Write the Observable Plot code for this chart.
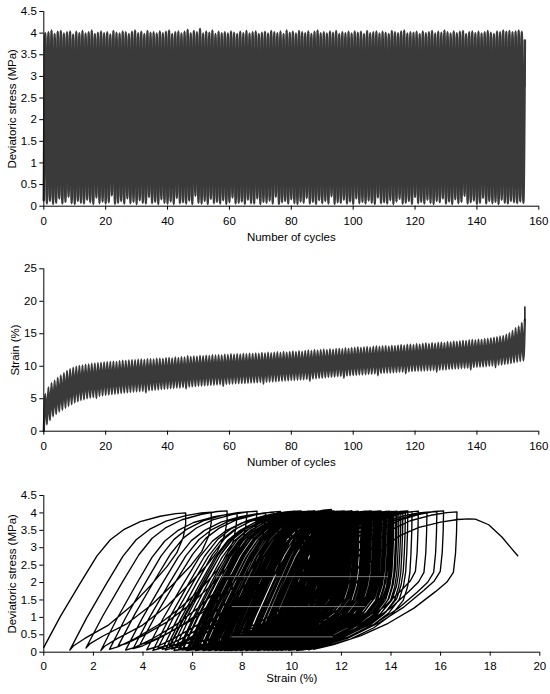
<!DOCTYPE html>
<html><head><meta charset="utf-8">
<script src="https://cdn.jsdelivr.net/npm/d3@7"></script>
<script src="https://cdn.jsdelivr.net/npm/@observablehq/plot@0.6"></script>
<style>html,body{margin:0;padding:0;background:#fff;} #c svg{display:block;}</style>
</head><body><div id="c"></div><script>
// ---- Data (per loading cycle k = 0..155) ----
const stressPeak = [
4.00,4.02,4.06,3.98,4.03,4.05,3.99,4.02,4.04,3.97,
4.03,4.00,4.05,3.99,4.02,4.06,3.98,4.01,4.04,4.00,
4.02,3.97,4.05,4.01,3.99,4.04,4.02,3.98,4.03,4.06,
4.00,4.03,3.98,4.05,4.01,4.02,3.99,4.04,4.00,4.03,
4.06,3.98,4.02,4.04,3.99,4.03,4.08,4.00,4.05,4.02,
4.10,3.99,4.04,4.01,4.06,3.98,4.03,4.00,4.02,3.99,
4.04,4.01,3.98,4.03,4.00,4.05,3.99,4.02,4.04,3.98,
4.01,4.03,3.99,4.05,4.02,4.00,4.04,3.98,4.06,4.01,
4.03,3.99,4.05,4.02,4.00,4.04,3.98,4.03,4.06,4.00,
4.02,3.99,4.04,4.01,4.05,3.98,4.02,4.00,4.03,3.99,
4.04,4.01,4.03,3.98,4.05,4.00,4.02,4.04,3.99,4.03,
4.01,3.98,4.05,4.02,4.00,4.04,4.06,3.99,4.02,4.01,
4.03,3.98,4.04,4.00,4.02,4.05,3.99,4.03,4.01,4.06,
4.02,3.99,4.04,4.00,4.03,4.05,3.98,4.02,4.04,4.00,
4.03,3.99,4.02,4.05,4.01,3.98,4.04,4.02,4.06,4.03,
4.05,4.02,4.04,4.06,4.03,3.83];
const stressMin = [
0.14,0.06,0.12,0.05,0.08,0.18,0.06,0.10,0.22,0.07,
0.05,0.12,0.08,0.06,0.15,0.09,0.05,0.20,0.07,0.11,
0.06,0.09,0.25,0.05,0.08,0.12,0.06,0.18,0.07,0.10,
0.05,0.14,0.08,0.06,0.21,0.07,0.10,0.05,0.16,0.08,
0.06,0.11,0.05,0.19,0.07,0.09,0.06,0.13,0.05,0.24,
0.08,0.06,0.12,0.05,0.17,0.07,0.10,0.06,0.14,0.05,
0.09,0.20,0.06,0.08,0.11,0.05,0.15,0.07,0.06,0.18,
0.05,0.10,0.08,0.13,0.06,0.22,0.05,0.09,0.12,0.06,
0.16,0.07,0.05,0.11,0.08,0.19,0.06,0.10,0.05,0.14,
0.07,0.12,0.06,0.23,0.05,0.09,0.08,0.15,0.06,0.11,
0.05,0.18,0.07,0.10,0.06,0.13,0.08,0.05,0.20,0.07,
0.09,0.06,0.14,0.05,0.11,0.17,0.06,0.08,0.12,0.05,
0.21,0.07,0.10,0.06,0.15,0.08,0.05,0.12,0.09,0.18,
0.06,0.11,0.05,0.16,0.07,0.10,0.24,0.06,0.09,0.13,
0.05,0.08,0.19,0.06,0.12,0.07,0.10,0.05,0.15,0.08,
0.06,0.12,0.09,0.07,0.11,0.08];
const strainMax = [
5.72,6.75,7.39,7.80,8.20,8.60,8.95,9.27,9.55,9.80,
9.95,10.05,10.12,10.25,10.30,10.38,10.42,10.48,10.52,10.58,
10.62,10.66,10.70,10.68,10.80,10.85,10.82,10.90,10.95,10.92,
11.00,11.05,10.98,11.08,11.10,11.05,11.15,11.18,11.12,11.25,
11.30,11.22,11.35,11.30,11.40,11.38,11.55,11.45,11.50,11.48,
11.60,11.55,11.62,11.58,11.70,11.65,11.72,11.68,11.80,11.75,
11.85,11.78,11.88,11.82,11.90,11.86,11.95,11.90,11.98,11.92,
12.05,11.98,12.08,12.00,12.10,12.15,12.08,12.20,12.12,12.22,
12.28,12.20,12.32,12.25,12.38,12.45,12.36,12.50,12.42,12.52,
12.58,12.50,12.62,12.55,12.68,12.72,12.65,12.80,12.70,12.82,
12.88,12.95,12.85,12.92,12.98,12.90,13.02,13.08,13.00,13.10,
13.15,13.05,13.18,13.12,13.22,13.28,13.20,13.32,13.38,13.30,
13.42,13.35,13.48,13.55,13.45,13.58,13.52,13.62,13.68,13.60,
13.75,13.70,13.82,13.78,13.88,13.95,13.90,14.00,14.05,14.02,
14.12,14.10,14.20,14.25,14.32,14.40,14.48,14.58,14.68,14.85,
15.10,15.45,15.85,16.12,16.66,17.13];
const strainMin = [
0.00,1.05,1.70,2.30,2.65,3.00,3.30,3.60,3.88,4.15,
4.40,4.60,4.78,4.90,5.05,5.15,5.25,5.10,5.42,5.50,
5.58,5.62,5.70,5.75,5.80,5.88,5.92,5.98,6.02,6.08,
6.12,6.15,6.20,5.95,6.30,6.32,6.38,6.42,6.48,6.52,
6.58,6.60,6.65,6.70,6.72,6.78,6.55,6.85,6.90,6.95,
7.00,7.02,7.05,7.10,7.12,7.15,7.18,7.22,6.95,7.28,
7.30,7.32,7.35,7.38,7.40,7.42,7.45,7.48,7.50,7.52,
7.55,7.30,7.60,7.62,7.65,7.68,7.72,7.75,7.78,7.82,
7.85,7.88,7.92,7.95,7.98,8.02,7.75,8.10,8.15,8.18,
8.22,8.28,8.32,8.35,8.40,8.45,8.48,8.20,8.55,8.60,
8.62,8.65,8.70,8.72,8.75,8.80,8.82,8.88,8.60,8.95,
8.98,9.00,9.02,9.05,9.08,9.12,9.15,8.90,9.20,9.22,
9.25,9.28,9.30,9.32,9.35,9.38,9.40,9.15,9.45,9.48,
9.50,9.55,9.58,9.62,9.65,9.70,9.72,9.75,9.50,9.85,
9.88,9.92,9.95,10.00,10.05,10.10,9.85,10.20,10.25,10.32,
10.40,10.48,10.58,10.68,10.78,10.88];
// final (failure) branch after the last peak
const failStrain = [17.13,17.40,17.94,18.48,18.88,19.11];
const failStress = [3.83,3.82,3.66,3.30,2.96,2.77];
// loop shape templates read from the hysteresis loops (fraction of strain span, fraction of stress)
const loadF = [0,0.117,0.258,0.375,0.469,0.563,0.68,0.82,0.93,1];
const loadS = [0,0.23,0.48,0.68,0.80,0.875,0.935,0.975,0.995,1];
const unloadEarlyG = [1,1.0,0.98,0.924,0.84,0.696,0.527,0.329,0.129,0.03,0];
const unloadEarlyS = [1,0.92,0.825,0.71,0.61,0.47,0.32,0.18,0.085,0.03,0];
const unloadMidG = [1,0.99,0.97,0.92,0.84,0.72,0.56,0.38,0.2,0.07,0];
const unloadMidS = [1,0.9,0.8,0.7,0.58,0.45,0.31,0.18,0.08,0.02,0];
const unloadBulgeG = [1,0.997,0.99,0.98,0.96,0.92,0.82,0.65,0.44,0.2,0];
const unloadBulgeS = [1,0.85,0.7,0.56,0.46,0.36,0.26,0.16,0.08,0.025,0];
const unloadLateG = [1,0.997,0.99,0.975,0.93,0.85,0.7,0.52,0.33,0.14,0];
const unloadLateS = [1,0.85,0.7,0.56,0.49,0.42,0.3,0.19,0.1,0.035,0];
// faint light streaks inside the dense area of the loops
const streakStress = [0.44,1.31,2.17];
const streakFrom = [7.6,7.6,6.96];
const streakTo = [11.68,12.96,13.9];
// tick labels
const cycleTicks = [0,20,40,60,80,100,120,140,160];
const stressTicks = [0,0.5,1,1.5,2,2.5,3,3.5,4,4.5];
const strainTicksY = [0,5,10,15,20,25];
const strainTicksX = [0,2,4,6,8,10,12,14,16,18,20];

// ---- build series ----
const nC = strainMax.length;
const stressTime = [], strainTime = [], loops = [];
for (let k = 0; k < nC; k++) {
  stressTime.push({t: k, v: stressMin[k]}, {t: k + 0.5, v: stressPeak[k]});
  strainTime.push({t: k, v: strainMin[k]}, {t: k + 0.5, v: strainMax[k]});
  const lo = strainMin[k], hi = strainMax[k], s0 = stressMin[k], pk = stressPeak[k];
  loadF.forEach((f, i) => loops.push({e: lo + f * (hi - lo), q: s0 + loadS[i] * (pk - s0)}));
  if (k + 1 < nC) {
    const lo2 = strainMin[k + 1], s1 = stressMin[k + 1];
    const G = k < 3 ? unloadEarlyG : k < 15 ? unloadMidG : k < 150 ? unloadBulgeG : unloadLateG;
    const S = k < 3 ? unloadEarlyS : k < 15 ? unloadMidS : k < 150 ? unloadBulgeS : unloadLateS;
    G.forEach((g, i) => { if (i > 0) loops.push({e: lo2 + g * (hi - lo2), q: s1 + S[i] * (pk - s1)}); });
  }
}
failStrain.forEach((e, i) => { if (i > 0) loops.push({e, q: failStress[i]}); });
const failTimeStrain = failStrain.map(v => ({t: nC - 0.5, v}));
const failTimeStress = failStress.map(v => ({t: nC - 0.5, v}));
const streaks = streakStress.map((y, i) => ({y, x1: streakFrom[i], x2: streakTo[i]}));

const style = {fontFamily: "'Liberation Sans', Arial, sans-serif", fontSize: "11.5px", background: "white", color: "black", overflow: "visible"};
const fmt = d => String(d);
const c = document.getElementById("c");
const band = "#3a3a3a";

c.appendChild(Plot.plot({
  width: 550, height: 250, marginTop: 11, marginBottom: 44.3, marginLeft: 43.3, marginRight: 11.7, style,
  x: {domain: [0, 160]}, y: {domain: [0, 4.5]},
  marks: [
    Plot.line(stressTime, {x: "t", y: "v", curve: "monotone-x", stroke: band, strokeWidth: 2.5}),
    Plot.line(failTimeStress, {x: "t", y: "v", stroke: band, strokeWidth: 1.5}),
    Plot.ruleY([0], {stroke: "black"}), Plot.ruleX([0], {stroke: "black"}),
    Plot.axisX({ticks: cycleTicks, tickSize: 4, tickPadding: 7, tickFormat: fmt, label: "Number of cycles", labelAnchor: "center", labelOffset: 35, labelArrow: false}),
    Plot.axisY({ticks: stressTicks, tickSize: 4, tickPadding: 3, tickFormat: fmt, label: "Deviatoric stress (MPa)", labelAnchor: "center", labelOffset: 36, labelArrow: false})
  ]
}));

c.appendChild(Plot.plot({
  width: 550, height: 220, marginTop: 18.3, marginBottom: 39.3, marginLeft: 43.3, marginRight: 11.7, style,
  x: {domain: [0, 160]}, y: {domain: [0, 25]},
  marks: [
    Plot.line(strainTime, {x: "t", y: "v", curve: "monotone-x", stroke: band, strokeWidth: 2.3}),
    Plot.line(failTimeStrain, {x: "t", y: "v", stroke: "#111", strokeWidth: 1.5}),
    Plot.ruleY([0], {stroke: "black"}), Plot.ruleX([0], {stroke: "black"}),
    Plot.axisX({ticks: cycleTicks, tickSize: 4, tickPadding: 7, tickFormat: fmt, label: "Number of cycles", labelAnchor: "center", labelOffset: 35, labelArrow: false}),
    Plot.axisY({ticks: strainTicksY, tickSize: 4, tickPadding: 3, tickFormat: fmt, label: "Strain (%)", labelAnchor: "center", labelOffset: 33, labelArrow: false})
  ]
}));

c.appendChild(Plot.plot({
  width: 550, height: 224, marginTop: 25, marginBottom: 42.3, marginLeft: 43.3, marginRight: 10.7, style,
  x: {domain: [0, 20]}, y: {domain: [0, 4.5]},
  marks: [
    Plot.line(loops, {x: "e", y: "q", stroke: "black", strokeWidth: 1.35}),
    Plot.ruleY(streaks, {y: "y", x1: "x1", x2: "x2", stroke: "#9a9a9a", strokeWidth: 0.8}),
    Plot.ruleY([0], {stroke: "black"}), Plot.ruleX([0], {stroke: "black"}),
    Plot.axisX({ticks: strainTicksX, tickSize: 4, tickPadding: 6, tickFormat: fmt, label: "Strain (%)", labelAnchor: "center", labelOffset: 30, labelArrow: false}),
    Plot.axisY({ticks: stressTicks, tickSize: 4, tickPadding: 3, tickFormat: fmt, label: "Deviatoric stress (MPa)", labelAnchor: "center", labelOffset: 36, labelArrow: false})
  ]
}));
</script></body></html>
